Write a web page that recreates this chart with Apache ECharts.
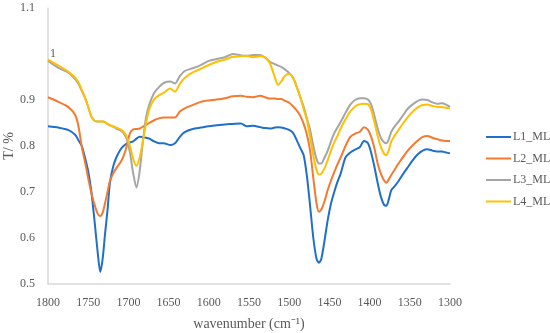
<!DOCTYPE html>
<html>
<head>
<meta charset="utf-8">
<script src="https://cdn.jsdelivr.net/npm/echarts@6/dist/echarts.min.js"></script>
<style>
html,body{margin:0;padding:0;background:#fff;}
#c{width:550px;height:333px;}
</style>
</head>
<body>
<div id="c"></div>
<script>
var wavenumbers = [1800,1787,1775,1766,1762,1758,1754,1750,1746,1742,1738,1735,1732,1729,1726,1723,1719,1715,1710,1706,1702,1698,1694,1690,1686,1682,1678,1674,1668,1662,1656,1648,1642,1636,1630,1620,1610,1600,1590,1580,1570,1560,1553,1545,1536,1530,1524,1518,1514,1510,1505,1500,1495,1490,1486,1482,1478,1474,1470,1466,1463,1460,1456,1452,1448,1444,1440,1436,1430,1424,1418,1412,1407,1402,1398,1394,1390,1386,1382,1379,1376,1373,1369,1364,1358,1352,1346,1340,1334,1328,1322,1316,1310,1305,1300];

var L1_ML = [0.843,0.840,0.835,0.824,0.812,0.800,0.775,0.745,0.700,0.635,0.565,0.526,0.555,0.610,0.660,0.720,0.755,0.775,0.792,0.800,0.805,0.808,0.810,0.816,0.820,0.819,0.818,0.816,0.810,0.806,0.806,0.802,0.806,0.820,0.830,0.837,0.840,0.843,0.845,0.847,0.848,0.849,0.843,0.844,0.841,0.839,0.838,0.840,0.841,0.840,0.838,0.835,0.828,0.810,0.795,0.780,0.735,0.670,0.600,0.555,0.546,0.555,0.595,0.640,0.675,0.700,0.722,0.740,0.775,0.786,0.792,0.798,0.811,0.806,0.785,0.755,0.720,0.690,0.672,0.670,0.685,0.704,0.712,0.724,0.740,0.755,0.770,0.782,0.790,0.793,0.790,0.788,0.788,0.786,0.784];

var L2_ML = [0.906,0.896,0.885,0.867,0.842,0.798,0.765,0.730,0.697,0.672,0.652,0.648,0.655,0.676,0.700,0.724,0.740,0.752,0.764,0.778,0.800,0.828,0.836,0.837,0.838,0.842,0.846,0.850,0.856,0.860,0.862,0.862,0.862,0.875,0.882,0.889,0.896,0.899,0.901,0.904,0.908,0.909,0.907,0.906,0.909,0.906,0.903,0.903,0.902,0.902,0.898,0.894,0.886,0.876,0.865,0.848,0.825,0.790,0.730,0.675,0.657,0.662,0.680,0.705,0.725,0.743,0.760,0.775,0.800,0.820,0.827,0.831,0.841,0.835,0.820,0.795,0.762,0.740,0.725,0.720,0.728,0.737,0.748,0.762,0.777,0.791,0.802,0.812,0.820,0.822,0.818,0.815,0.812,0.811,0.811];

var L3_ML = [0.985,0.970,0.960,0.945,0.935,0.920,0.905,0.885,0.864,0.855,0.853,0.853,0.853,0.852,0.848,0.845,0.842,0.838,0.834,0.828,0.815,0.785,0.740,0.710,0.745,0.810,0.862,0.890,0.915,0.928,0.937,0.940,0.936,0.952,0.963,0.969,0.976,0.985,0.989,0.993,1.000,0.997,0.996,0.998,0.998,0.992,0.983,0.978,0.975,0.972,0.966,0.959,0.948,0.926,0.905,0.885,0.860,0.835,0.800,0.772,0.762,0.762,0.775,0.790,0.810,0.828,0.840,0.852,0.872,0.890,0.900,0.904,0.904,0.901,0.890,0.866,0.838,0.818,0.808,0.806,0.815,0.831,0.842,0.853,0.868,0.882,0.891,0.898,0.901,0.900,0.895,0.892,0.893,0.890,0.885];

var L4_ML = [0.988,0.975,0.962,0.948,0.938,0.922,0.905,0.885,0.864,0.855,0.853,0.853,0.853,0.852,0.848,0.845,0.843,0.840,0.836,0.831,0.820,0.800,0.772,0.757,0.775,0.810,0.850,0.880,0.902,0.910,0.916,0.925,0.918,0.935,0.948,0.960,0.968,0.976,0.983,0.988,0.994,0.995,0.996,0.993,0.995,0.993,0.980,0.950,0.933,0.940,0.953,0.957,0.947,0.925,0.905,0.880,0.857,0.820,0.780,0.748,0.738,0.740,0.752,0.770,0.790,0.808,0.822,0.838,0.858,0.875,0.886,0.891,0.892,0.891,0.878,0.852,0.822,0.798,0.783,0.780,0.792,0.810,0.822,0.835,0.850,0.864,0.875,0.884,0.889,0.890,0.887,0.885,0.885,0.883,0.882];

var seriesNames = ['L1_ML','L2_ML','L3_ML','L4_ML'];
var seriesValues = [L1_ML, L2_ML, L3_ML, L4_ML];
var seriesColors = ['#1F6FCB','#F37A2E','#A5A5A5','#FFC000'];

var xTicks = {min:1300, max:1800, interval:50};
var yTicks = {min:0.5, max:1.1, interval:0.1};

var FONT = 'Liberation Serif';
var TXT = '#595959';

function pairs(vals){
  return wavenumbers.map(function(w,i){ return [w, vals[i]]; });
}

var chart = echarts.init(document.getElementById('c'), null, {renderer:'canvas'});

var zOrder = [1,2,3,4];
var series = seriesNames.map(function(n,i){
  return {
    name: n,
    type: 'line',
    data: pairs(seriesValues[i]),
    smooth: 0.25,
    symbol: 'none',
    z: zOrder[i],
    lineStyle: {color: seriesColors[i], width: 2},
    itemStyle: {color: seriesColors[i]}
  };
});

chart.setOption({
  animation: false,
  backgroundColor: '#ffffff',
  grid: {left: 48, right: 100, top: 8, bottom: 49, containLabel: false, outerBoundsMode: 'none'},
  xAxis: {
    type: 'value',
    inverse: true,
    min: xTicks.min, max: xTicks.max, interval: xTicks.interval,
    name: 'wavenumber (cm\u207B\u00B9)',
    nameLocation: 'middle',
    nameGap: 33,
    nameMoveOverlap: false,
    nameTextStyle: {fontFamily: FONT, fontSize: 14, color: TXT},
    axisLine: {show: true, lineStyle: {color: '#D9D9D9', width: 1.5}},
    axisTick: {show: false},
    splitLine: {show: false},
    axisLabel: {fontFamily: FONT, fontSize: 12, color: TXT, margin: 13,
      formatter: function(v){ return String(v); }}
  },
  yAxis: {
    type: 'value',
    min: yTicks.min, max: yTicks.max, interval: yTicks.interval,
    name: 'T/ %',
    nameLocation: 'middle',
    nameGap: 32,
    nameMoveOverlap: false,
    nameRotate: 90,
    nameTextStyle: {fontFamily: FONT, fontSize: 14, color: TXT},
    axisLine: {show: true, lineStyle: {color: '#D9D9D9', width: 1.5}},
    axisTick: {show: false},
    splitLine: {show: false},
    axisLabel: {
      fontFamily: FONT, fontSize: 12, color: TXT, margin: 13,
      formatter: function(v){
        var s = String(Math.round(v*10)/10);
        return s === '1' ? '' : s;
      }
    }
  },
  legend: {
    orient: 'vertical',
    left: 481, top: 126,
    itemWidth: 25, itemHeight: 14,
    itemGap: 9.5,
    icon: 'path://M0,6 L25,6 L25,8 L0,8 Z',
    textStyle: {fontFamily: FONT, fontSize: 12, color: TXT, padding: [0,0,0,-3]},
    data: seriesNames
  },
  series: series
});

// "1" tick label sits just right of the axis line in the reference
var y1 = chart.convertToPixel({yAxisIndex: 0}, 1);
var x0 = chart.convertToPixel({xAxisIndex: 0}, xTicks.max);
chart.setOption({
  graphic: [{
    type: 'text',
    x: x0 + 2, y: y1,
    style: {text: '1', font: '12px "Liberation Serif"', fill: TXT, textVerticalAlign: 'middle', textAlign: 'left'}
  }]
});
</script>
</body>
</html>
